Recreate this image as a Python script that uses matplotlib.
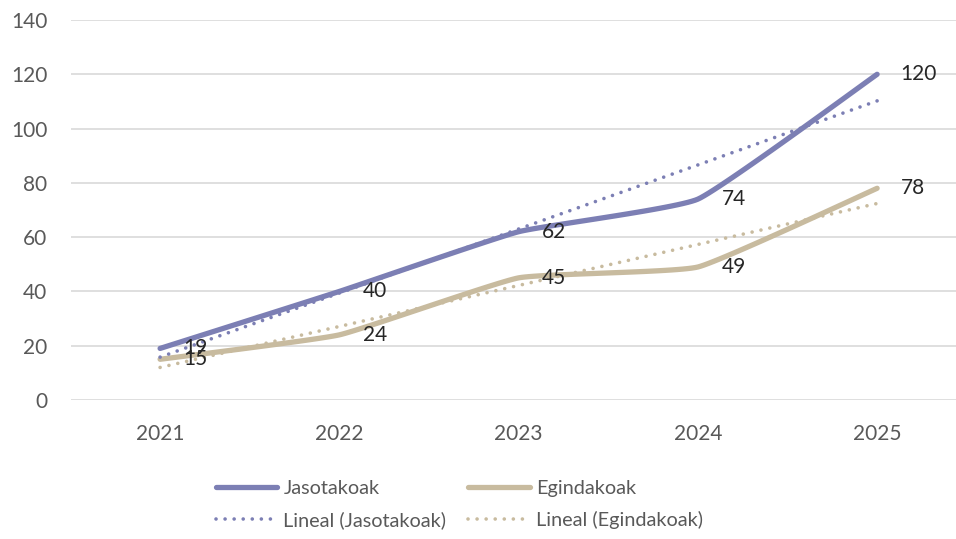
import matplotlib
matplotlib.use("Agg")
import matplotlib.pyplot as plt
import numpy as np

plt.rcParams['font.family'] = ['Lato', 'DejaVu Sans']

years = ["2021", "2022", "2023", "2024", "2025"]
jasotakoak = [19, 40, 62, 74, 120]
egindakoak = [15, 24, 45, 49, 78]

c_jas = "#7c7fb4"
c_egi = "#c8bb9f"
grey = "#595959"


def smooth(y, n=30, k=1 / 16):
    # slightly rounded corners, close to Excel's smoothed line
    y = np.asarray(y, float)
    x = np.arange(len(y), dtype=float)
    px = np.concatenate([[x[0]], x, [x[-1]]])
    py = np.concatenate([[y[0]], y, [y[-1]]])
    xs, ys = [], []
    for i in range(1, len(px) - 2):
        t = np.linspace(0, 1, n)
        for arr, out in ((px, xs), (py, ys)):
            p0, p1, p2, p3 = arr[i - 1], arr[i], arr[i + 1], arr[i + 2]
            b1 = p1 + (p2 - p0) * k
            b2 = p2 - (p3 - p1) * k
            out.extend((1 - t) ** 3 * p1 + 3 * (1 - t) ** 2 * t * b1
                       + 3 * (1 - t) * t ** 2 * b2 + t ** 3 * p2)
    return np.array(xs), np.array(ys)


fig = plt.figure(figsize=(9.56, 5.39), dpi=100)
ax = fig.add_axes([71 / 956, 1 - 400 / 539, 885 / 956, 380 / 539])

x = np.arange(len(years))
handles = []
for vals, col, name in ((jasotakoak, c_jas, "Jasotakoak"), (egindakoak, c_egi, "Egindakoak")):
    sx, sy = smooth(vals)
    h, = ax.plot(sx, sy, color=col, lw=3.8, solid_capstyle="round", label=name, zorder=3)
    handles.append(h)

for vals, col, name in ((jasotakoak, c_jas, "Jasotakoak"), (egindakoak, c_egi, "Egindakoak")):
    k, b = np.polyfit(x + 1, vals, 1)
    h, = ax.plot(x, k * (x + 1) + b, color=col, lw=2.6, ls=(0, (0.01, 2.5)),
                 dash_capstyle="round", label=f"Lineal ({name})", zorder=4)
    handles.append(h)

for vals in (jasotakoak, egindakoak):
    for xi, v in zip(x, vals):
        ax.annotate(str(v), (xi, v), xytext=(17, 0), textcoords="offset points",
                    va="center", ha="left", fontsize=15, color="#262626", zorder=5)

ax.set_xlim(-0.497, 4.44)
ax.set_ylim(0, 140)
ax.set_yticks(range(0, 141, 20))
ax.set_xticks(x)
ax.set_xticklabels(years)
ax.grid(axis="y", color="#d9d9d9", lw=1.2)
ax.set_axisbelow(True)
for s in ax.spines.values():
    s.set_visible(False)
ax.tick_params(length=0, labelsize=15, colors=grey)
ax.tick_params(axis="x", pad=17)
ax.tick_params(axis="y", pad=17)

order = [handles[0], handles[2], handles[1], handles[3]]
fig.legend(handles=order, labels=[h.get_label() for h in order],
           loc="lower left", bbox_to_anchor=(198 / 956, -0.015), ncol=2, frameon=False,
           fontsize=14.3, labelcolor=grey, handlelength=3.1, handletextpad=0.3,
           columnspacing=1.1, labelspacing=0.7)

fig.savefig("out.png", dpi=100)
